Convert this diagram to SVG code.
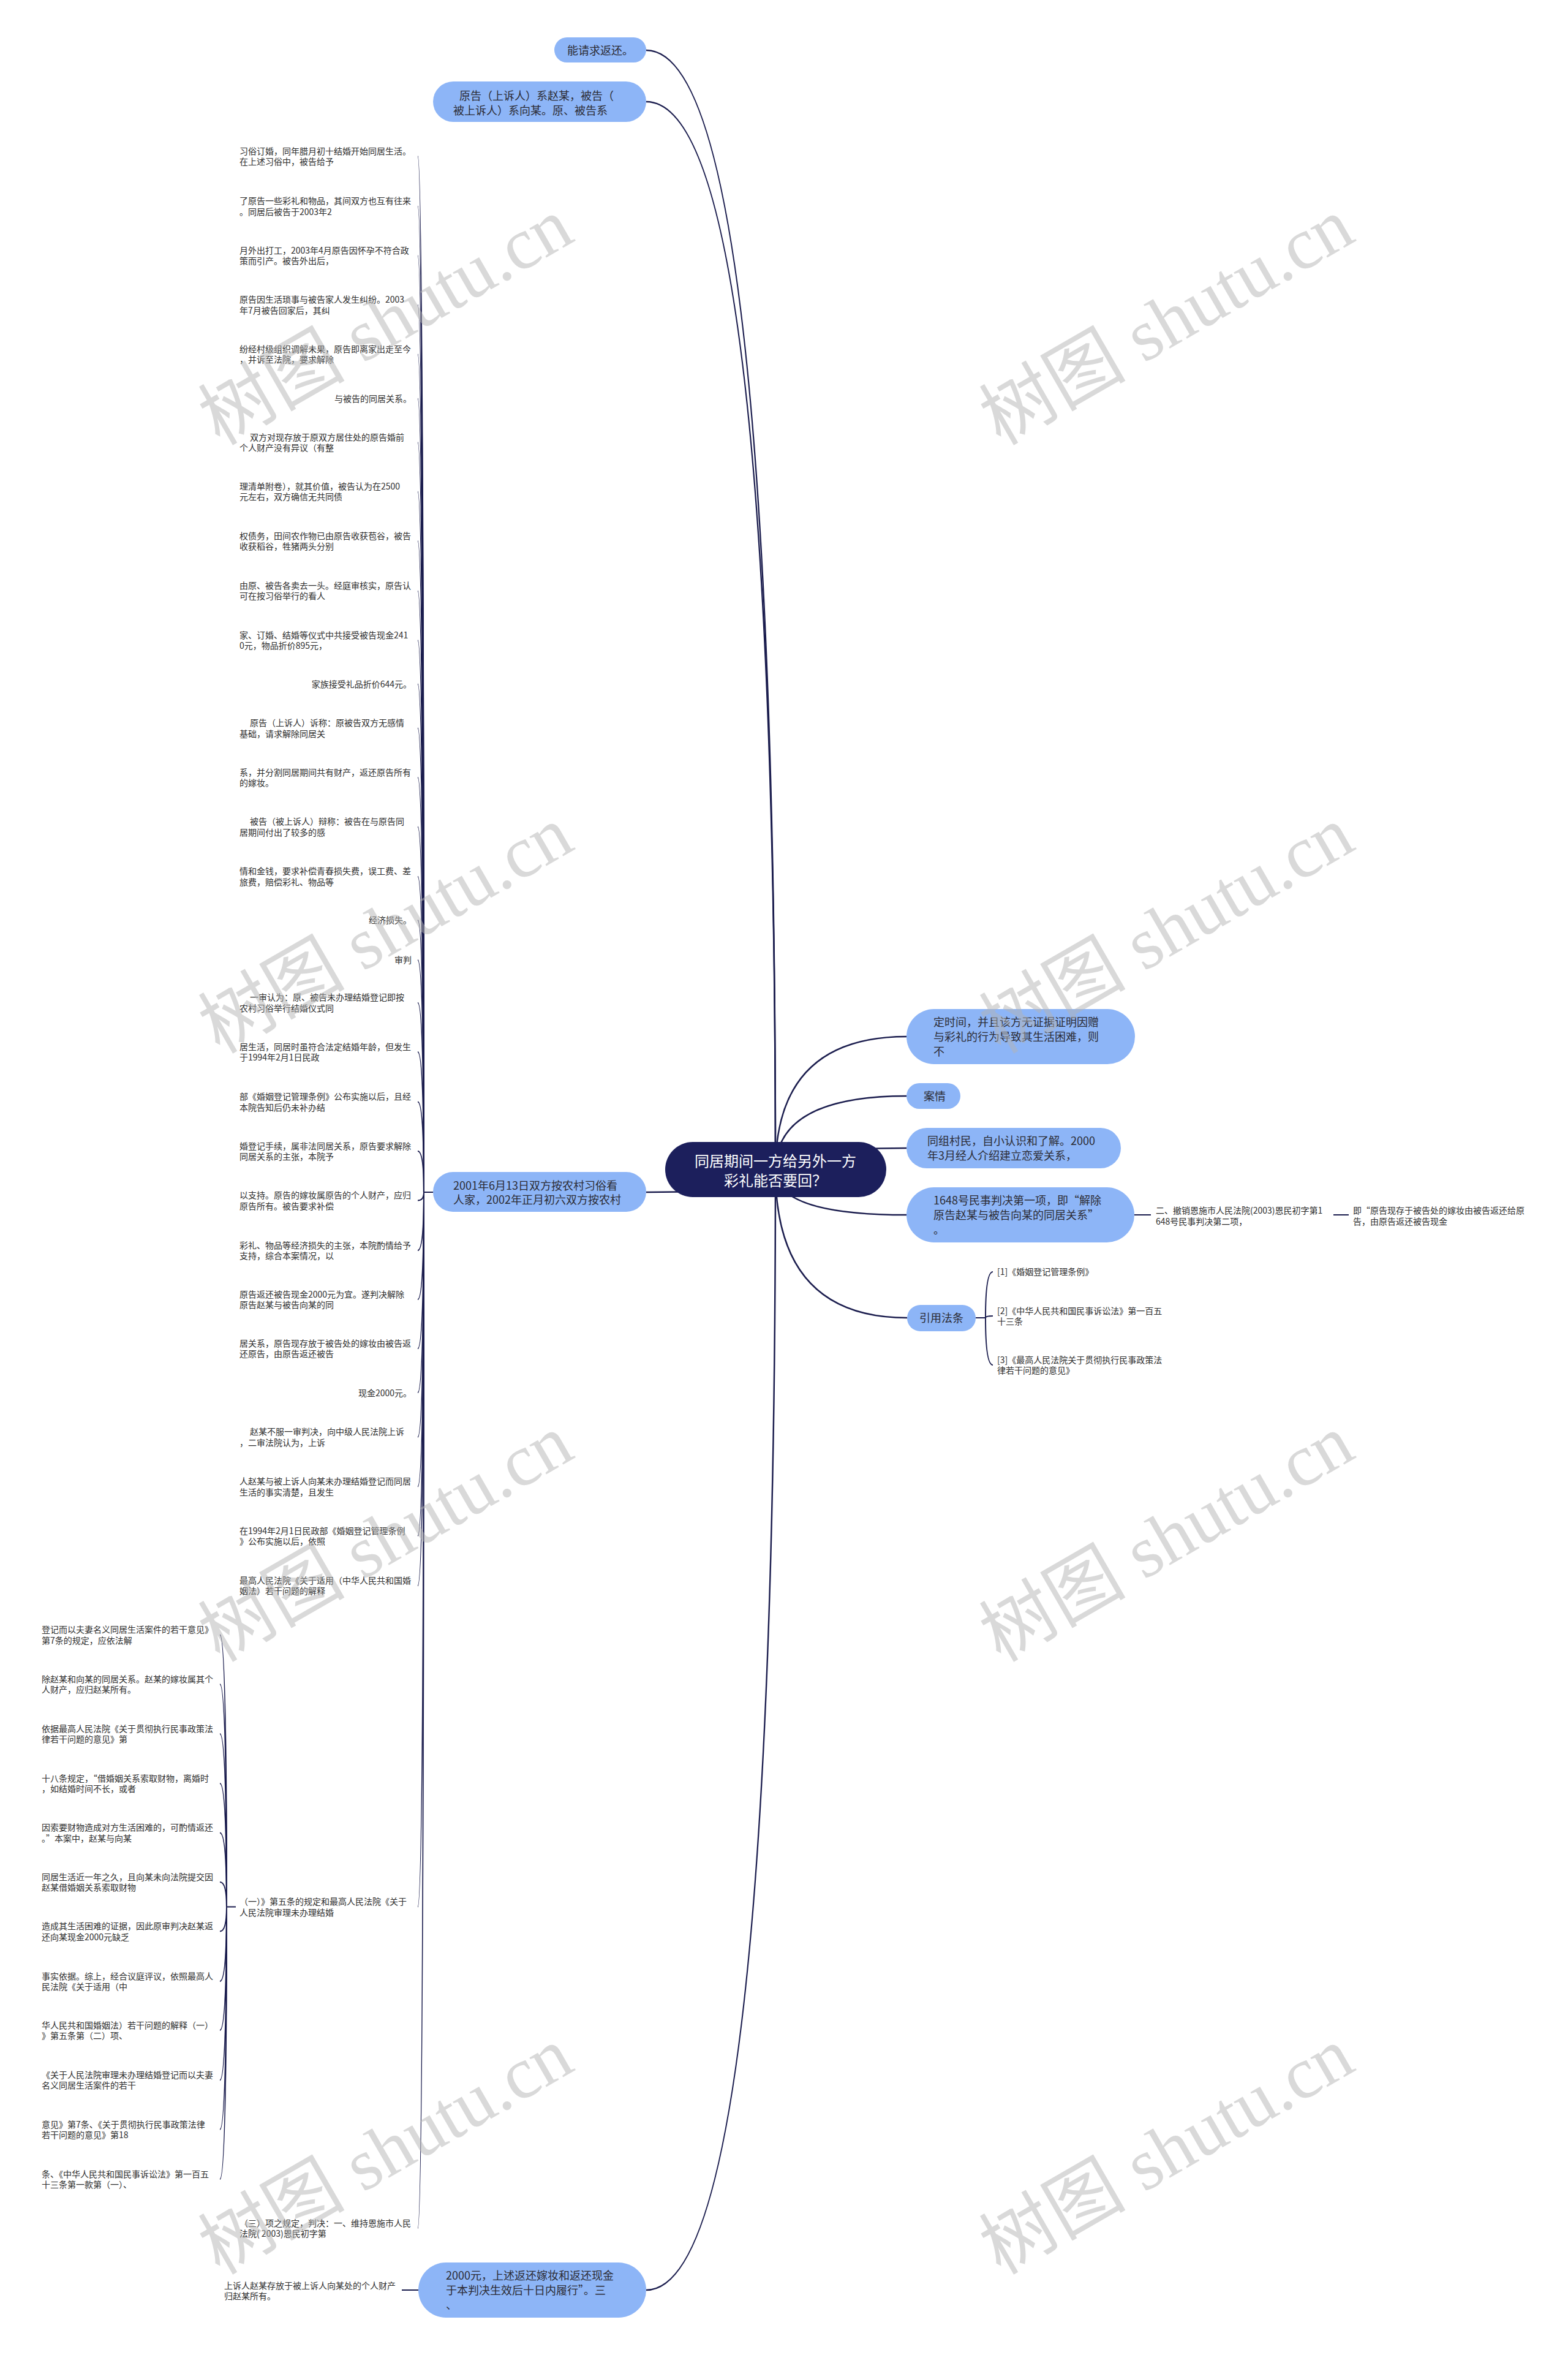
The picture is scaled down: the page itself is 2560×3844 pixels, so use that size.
<svg xmlns="http://www.w3.org/2000/svg" width="2560" height="3844" viewBox="0 0 2560 3844">
<style>
text{font-family:"Noto Sans CJK SC","Noto Sans",sans-serif;}
.n{fill:#8db5f7;}
.nt{font-size:18px;fill:#2c2c34;}
.rt{font-size:24px;fill:#ffffff;}
.l{font-size:14px;fill:#2e2e2e;}
.c{fill:none;stroke:#1b1d4e;stroke-width:2.5;}
.c2{fill:none;stroke:#1b1d4e;stroke-width:2;}
.wm{font-family:"Liberation Serif","Noto Sans CJK SC",serif;font-size:120px;fill:#b4b4b4;opacity:0.5;}
</style>
<rect width="2560" height="3844" fill="#ffffff"/>
<g id="connectors">
<path class="c" d="M1266,1910 Q1266,82 1055,82"/>
<path class="c" d="M1266,1910 Q1266,166 1055,166"/>
<path class="c" d="M1266,1910 Q1266,1946 1055,1946"/>
<path class="c" d="M1266,1910 Q1266,3738 1055,3738"/>
<path class="c" d="M1266,1910 Q1266,1692 1480,1692"/>
<path class="c" d="M1266,1910 Q1266,1789 1480,1789"/>
<path class="c" d="M1266,1910 Q1266,1874 1480,1874"/>
<path class="c" d="M1266,1910 Q1266,1983 1480,1983"/>
<path class="c" d="M1266,1910 Q1266,2151 1481,2151"/>
<path class="c2" d="M707,1946 H692"/>
<path class="c2" d="M692,1946 Q692,255 682,255"/>
<path class="c2" d="M692,1946 Q692,336.6 682,336.6"/>
<path class="c2" d="M692,1946 Q692,417.3 682,417.3"/>
<path class="c2" d="M692,1946 Q692,497.5 682,497.5"/>
<path class="c2" d="M692,1946 Q692,578.3 682,578.3"/>
<path class="c2" d="M692,1946 Q692,650.6 682,650.6"/>
<path class="c2" d="M692,1946 Q692,722 682,722"/>
<path class="c2" d="M692,1946 Q692,802.4 682,802.4"/>
<path class="c2" d="M692,1946 Q692,883 682,883"/>
<path class="c2" d="M692,1946 Q692,964.4 682,964.4"/>
<path class="c2" d="M692,1946 Q692,1045 682,1045"/>
<path class="c2" d="M692,1946 Q692,1116.6 682,1116.6"/>
<path class="c2" d="M692,1946 Q692,1188.5 682,1188.5"/>
<path class="c2" d="M692,1946 Q692,1269 682,1269"/>
<path class="c2" d="M692,1946 Q692,1349.6 682,1349.6"/>
<path class="c2" d="M692,1946 Q692,1430.7 682,1430.7"/>
<path class="c2" d="M692,1946 Q692,1502 682,1502"/>
<path class="c2" d="M692,1946 Q692,1567 682,1567"/>
<path class="c2" d="M692,1946 Q692,1636.8 682,1636.8"/>
<path class="c2" d="M692,1946 Q692,1717 682,1717"/>
<path class="c2" d="M692,1946 Q692,1798.5 682,1798.5"/>
<path class="c2" d="M692,1946 Q692,1879 682,1879"/>
<path class="c2" d="M692,1946 Q692,1959.5 682,1959.5"/>
<path class="c2" d="M692,1946 Q692,2041 682,2041"/>
<path class="c2" d="M692,1946 Q692,2121 682,2121"/>
<path class="c2" d="M692,1946 Q692,2201.3 682,2201.3"/>
<path class="c2" d="M692,1946 Q692,2273.3 682,2273.3"/>
<path class="c2" d="M692,1946 Q692,2345.8 682,2345.8"/>
<path class="c2" d="M692,1946 Q692,2426.5 682,2426.5"/>
<path class="c2" d="M692,1946 Q692,2507 682,2507"/>
<path class="c2" d="M692,1946 Q692,2588.3 682,2588.3"/>
<path class="c2" d="M692,1946 Q692,3112.5 682,3112.5"/>
<path class="c2" d="M692,1946 Q692,3637 682,3637"/>
<path class="c2" d="M385,3112.5 H370"/>
<path class="c2" d="M370,3112.5 Q370,2668.4 359,2668.4"/>
<path class="c2" d="M370,3112.5 Q370,2749 359,2749"/>
<path class="c2" d="M370,3112.5 Q370,2830 359,2830"/>
<path class="c2" d="M370,3112.5 Q370,2911 359,2911"/>
<path class="c2" d="M370,3112.5 Q370,2991.6 359,2991.6"/>
<path class="c2" d="M370,3112.5 Q370,3072 359,3072"/>
<path class="c2" d="M370,3112.5 Q370,3152.5 359,3152.5"/>
<path class="c2" d="M370,3112.5 Q370,3234 359,3234"/>
<path class="c2" d="M370,3112.5 Q370,3314 359,3314"/>
<path class="c2" d="M370,3112.5 Q370,3395.4 359,3395.4"/>
<path class="c2" d="M370,3112.5 Q370,3476 359,3476"/>
<path class="c2" d="M370,3112.5 Q370,3557 359,3557"/>
<path class="c2" d="M683,3738 H656"/>
<path class="c2" d="M1852,1983 H1879"/>
<path class="c2" d="M2177,1983 H2202"/>
<path class="c2" d="M1593,2151 H1609"/>
<path class="c2" d="M1609,2151 Q1609,2076 1621,2076"/>
<path class="c2" d="M1609,2151 Q1609,2148 1621,2148"/>
<path class="c2" d="M1609,2151 Q1609,2228 1621,2228"/>
</g>
<g id="root">
<rect x="1086" y="1864" width="361" height="90" rx="45" fill="#1c1f5c"/>
<text class="rt" text-anchor="middle"><tspan x="1266" y="1904">同居期间一方给另外一方</tspan><tspan x="1266" y="1936">彩礼能否要回？</tspan></text>
</g>
<g id="n-qingqiu">
<rect class="n" x="905" y="61" width="150" height="41" rx="20.5"/>
<text class="nt" x="980" y="88.5" text-anchor="middle">能请求返还。</text>
</g>
<g id="n-yuangao">
<rect class="n" x="707" y="133" width="348" height="66" rx="33"/>
<text class="nt"><tspan x="750" y="162.5">原告（上诉人）系赵某，被告（</tspan><tspan x="740" y="186.5">被上诉人）系向某。原、被告系</tspan></text>
</g>
<g id="n-2001">
<rect class="n" x="707" y="1913" width="348" height="65" rx="32.5"/>
<text class="nt"><tspan x="740" y="1942">2001年6月13日双方按农村习俗看</tspan><tspan x="740" y="1965">人家，2002年正月初六双方按农村</tspan></text>
</g>
<g id="n-2000">
<rect class="n" x="683" y="3693" width="372" height="90" rx="45"/>
<text class="nt"><tspan x="728" y="3721">2000元，上述返还嫁妆和返还现金</tspan><tspan x="728" y="3745">于本判决生效后十日内履行”。三</tspan><tspan x="728" y="3769">、</tspan></text>
</g>
<g id="n-dingshijian">
<rect class="n" x="1480" y="1647" width="373" height="90" rx="45"/>
<text class="nt"><tspan x="1524" y="1675">定时间，并且该方无证据证明因赠</tspan><tspan x="1524" y="1699">与彩礼的行为导致其生活困难，则</tspan><tspan x="1524" y="1723">不</tspan></text>
</g>
<g id="n-anqing">
<rect class="n" x="1480" y="1768" width="88" height="42" rx="21"/>
<text class="nt" x="1526" y="1796" text-anchor="middle">案情</text>
</g>
<g id="n-tongzu">
<rect class="n" x="1480" y="1841" width="350" height="66" rx="33"/>
<text class="nt"><tspan x="1514" y="1869">同组村民，自小认识和了解。2000</tspan><tspan x="1514" y="1893">年3月经人介绍建立恋爱关系，</tspan></text>
</g>
<g id="n-1648">
<rect class="n" x="1480" y="1938" width="372" height="90" rx="45"/>
<text class="nt"><tspan x="1524" y="1966">1648号民事判决第一项，即“解除</tspan><tspan x="1524" y="1990">原告赵某与被告向某的同居关系”</tspan><tspan x="1524" y="2014">。</tspan></text>
</g>
<g id="n-yinyong">
<rect class="n" x="1481" y="2130" width="112" height="43" rx="21.5"/>
<text class="nt" x="1537" y="2158" text-anchor="middle">引用法条</text>
</g>
<g id="leaf-right">
<text class="l"><tspan x="1887" y="1981">二、撤销恩施市人民法院(2003)恩民初字第1</tspan><tspan x="1887" y="1998.5">648号民事判决第二项，</tspan></text>
<text class="l"><tspan x="2209" y="1981">即“原告现存于被告处的嫁妆由被告返还给原</tspan><tspan x="2209" y="1998.5">告，由原告返还被告现金</tspan></text>
<text class="l" x="1628" y="2081.3">[1]《婚姻登记管理条例》</text>
<text class="l"><tspan x="1628" y="2144.5">[2]《中华人民共和国民事诉讼法》第一百五</tspan><tspan x="1628" y="2162">十三条</tspan></text>
<text class="l"><tspan x="1628" y="2224.5">[3]《最高人民法院关于贯彻执行民事政策法</tspan><tspan x="1628" y="2242">律若干问题的意见》</tspan></text>
</g>
<g id="leaf-bottom">
<text class="l"><tspan x="366" y="3735.5">上诉人赵某存放于被上诉人向某处的个人财产</tspan><tspan x="366" y="3753">归赵某所有。</tspan></text>
</g>
<g id="leaf-left">
<text class="l"><tspan x="391" y="251.5">习俗订婚，同年腊月初十结婚开始同居生活。</tspan><tspan x="391" y="269">在上述习俗中，被告给予</tspan></text>
<text class="l"><tspan x="391" y="333.1">了原告一些彩礼和物品，其间双方也互有往来</tspan><tspan x="391" y="350.6">。同居后被告于2003年2</tspan></text>
<text class="l"><tspan x="391" y="413.8">月外出打工，2003年4月原告因怀孕不符合政</tspan><tspan x="391" y="431.3">策而引产。被告外出后，</tspan></text>
<text class="l"><tspan x="391" y="494">原告因生活琐事与被告家人发生纠纷。2003</tspan><tspan x="391" y="511.5">年7月被告回家后，其纠</tspan></text>
<text class="l"><tspan x="391" y="574.8">纷经村级组织调解未果，原告即离家出走至今</tspan><tspan x="391" y="592.3">，并诉至法院，要求解除</tspan></text>
<text class="l" x="672" y="655.9" text-anchor="end">与被告的同居关系。</text>
<text class="l"><tspan x="408" y="718.5">双方对现存放于原双方居住处的原告婚前</tspan><tspan x="391" y="736">个人财产没有异议（有整</tspan></text>
<text class="l"><tspan x="391" y="798.9">理清单附卷），就其价值，被告认为在2500</tspan><tspan x="391" y="816.4">元左右，双方确信无共同债</tspan></text>
<text class="l"><tspan x="391" y="879.5">权债务，田间农作物已由原告收获苞谷，被告</tspan><tspan x="391" y="897">收获稻谷，牲猪两头分别</tspan></text>
<text class="l"><tspan x="391" y="960.9">由原、被告各卖去一头。经庭审核实，原告认</tspan><tspan x="391" y="978.4">可在按习俗举行的看人</tspan></text>
<text class="l"><tspan x="391" y="1041.5">家、订婚、结婚等仪式中共接受被告现金241</tspan><tspan x="391" y="1059">0元，物品折价895元，</tspan></text>
<text class="l" x="672" y="1121.9" text-anchor="end">家族接受礼品折价644元。</text>
<text class="l"><tspan x="408" y="1185">原告（上诉人）诉称：原被告双方无感情</tspan><tspan x="391" y="1202.5">基础，请求解除同居关</tspan></text>
<text class="l"><tspan x="391" y="1265.5">系，并分割同居期间共有财产，返还原告所有</tspan><tspan x="391" y="1283">的嫁妆。</tspan></text>
<text class="l"><tspan x="408" y="1346.1">被告（被上诉人）辩称：被告在与原告同</tspan><tspan x="391" y="1363.6">居期间付出了较多的感</tspan></text>
<text class="l"><tspan x="391" y="1427.2">情和金钱，要求补偿青春损失费，误工费、差</tspan><tspan x="391" y="1444.7">旅费，赔偿彩礼、物品等</tspan></text>
<text class="l" x="672" y="1507.3" text-anchor="end">经济损失。</text>
<text class="l" x="672" y="1572.3" text-anchor="end">审判</text>
<text class="l"><tspan x="408" y="1633.3">一审认为：原、被告未办理结婚登记即按</tspan><tspan x="391" y="1650.8">农村习俗举行结婚仪式同</tspan></text>
<text class="l"><tspan x="391" y="1713.5">居生活，同居时虽符合法定结婚年龄，但发生</tspan><tspan x="391" y="1731">于1994年2月1日民政</tspan></text>
<text class="l"><tspan x="391" y="1795">部《婚姻登记管理条例》公布实施以后，且经</tspan><tspan x="391" y="1812.5">本院告知后仍未补办结</tspan></text>
<text class="l"><tspan x="391" y="1875.5">婚登记手续，属非法同居关系，原告要求解除</tspan><tspan x="391" y="1893">同居关系的主张，本院予</tspan></text>
<text class="l"><tspan x="391" y="1956">以支持。原告的嫁妆属原告的个人财产，应归</tspan><tspan x="391" y="1973.5">原告所有。被告要求补偿</tspan></text>
<text class="l"><tspan x="391" y="2037.5">彩礼、物品等经济损失的主张，本院酌情给予</tspan><tspan x="391" y="2055">支持，综合本案情况，以</tspan></text>
<text class="l"><tspan x="391" y="2117.5">原告返还被告现金2000元为宜。遂判决解除</tspan><tspan x="391" y="2135">原告赵某与被告向某的同</tspan></text>
<text class="l"><tspan x="391" y="2197.8">居关系，原告现存放于被告处的嫁妆由被告返</tspan><tspan x="391" y="2215.3">还原告，由原告返还被告</tspan></text>
<text class="l" x="672" y="2278.6" text-anchor="end">现金2000元。</text>
<text class="l"><tspan x="408" y="2342.3">赵某不服一审判决，向中级人民法院上诉</tspan><tspan x="391" y="2359.8">，二审法院认为，上诉</tspan></text>
<text class="l"><tspan x="391" y="2423">人赵某与被上诉人向某未办理结婚登记而同居</tspan><tspan x="391" y="2440.5">生活的事实清楚，且发生</tspan></text>
<text class="l"><tspan x="391" y="2503.5">在1994年2月1日民政部《婚姻登记管理条例</tspan><tspan x="391" y="2521">》公布实施以后，依照</tspan></text>
<text class="l"><tspan x="391" y="2584.8">最高人民法院《关于适用（中华人民共和国婚</tspan><tspan x="391" y="2602.3">姻法）若干问题的解释</tspan></text>
<text class="l"><tspan x="391" y="3109">（一）》第五条的规定和最高人民法院《关于</tspan><tspan x="391" y="3126.5">人民法院审理未办理结婚</tspan></text>
<text class="l"><tspan x="391" y="3633.5">（三）项之规定，判决：一、维持恩施市人民</tspan><tspan x="391" y="3651">法院( 2003)恩民初字第</tspan></text>
</g>
<g id="leaf-left2">
<text class="l"><tspan x="68" y="2665">登记而以夫妻名义同居生活案件的若干意见》</tspan><tspan x="68" y="2682.5">第7条的规定，应依法解</tspan></text>
<text class="l"><tspan x="68" y="2745.5">除赵某和向某的同居关系。赵某的嫁妆属其个</tspan><tspan x="68" y="2763">人财产，应归赵某所有。</tspan></text>
<text class="l"><tspan x="68" y="2826.5">依据最高人民法院《关于贯彻执行民事政策法</tspan><tspan x="68" y="2844">律若干问题的意见》第</tspan></text>
<text class="l"><tspan x="68" y="2907.5">十八条规定，“借婚姻关系索取财物，离婚时</tspan><tspan x="68" y="2925">，如结婚时间不长，或者</tspan></text>
<text class="l"><tspan x="68" y="2988.1">因索要财物造成对方生活困难的，可酌情返还</tspan><tspan x="68" y="3005.6">。”本案中，赵某与向某</tspan></text>
<text class="l"><tspan x="68" y="3068.5">同居生活近一年之久，且向某未向法院提交因</tspan><tspan x="68" y="3086">赵某借婚姻关系索取财物</tspan></text>
<text class="l"><tspan x="68" y="3149">造成其生活困难的证据，因此原审判决赵某返</tspan><tspan x="68" y="3166.5">还向某现金2000元缺乏</tspan></text>
<text class="l"><tspan x="68" y="3230.5">事实依据。综上，经合议庭评议，依照最高人</tspan><tspan x="68" y="3248">民法院《关于适用（中</tspan></text>
<text class="l"><tspan x="68" y="3310.5">华人民共和国婚姻法）若干问题的解释（一）</tspan><tspan x="68" y="3328">》第五条第（二）项、</tspan></text>
<text class="l"><tspan x="68" y="3391.9">《关于人民法院审理未办理结婚登记而以夫妻</tspan><tspan x="68" y="3409.4">名义同居生活案件的若干</tspan></text>
<text class="l"><tspan x="68" y="3472.5">意见》第7条、《关于贯彻执行民事政策法律</tspan><tspan x="68" y="3490">若干问题的意见》第18</tspan></text>
<text class="l"><tspan x="68" y="3553.5">条、《中华人民共和国民事诉讼法》第一百五</tspan><tspan x="68" y="3571">十三条第一款第（一）、</tspan></text>
</g>
<g id="watermark">
<text class="wm" text-anchor="middle" transform="translate(650,560) rotate(-30)">树图 shutu.cn</text>
<text class="wm" text-anchor="middle" transform="translate(1925,560) rotate(-30)">树图 shutu.cn</text>
<text class="wm" text-anchor="middle" transform="translate(650,1553) rotate(-30)">树图 shutu.cn</text>
<text class="wm" text-anchor="middle" transform="translate(1925,1553) rotate(-30)">树图 shutu.cn</text>
<text class="wm" text-anchor="middle" transform="translate(650,2546) rotate(-30)">树图 shutu.cn</text>
<text class="wm" text-anchor="middle" transform="translate(1925,2546) rotate(-30)">树图 shutu.cn</text>
<text class="wm" text-anchor="middle" transform="translate(650,3546) rotate(-30)">树图 shutu.cn</text>
<text class="wm" text-anchor="middle" transform="translate(1925,3546) rotate(-30)">树图 shutu.cn</text>
</g>
</svg>
